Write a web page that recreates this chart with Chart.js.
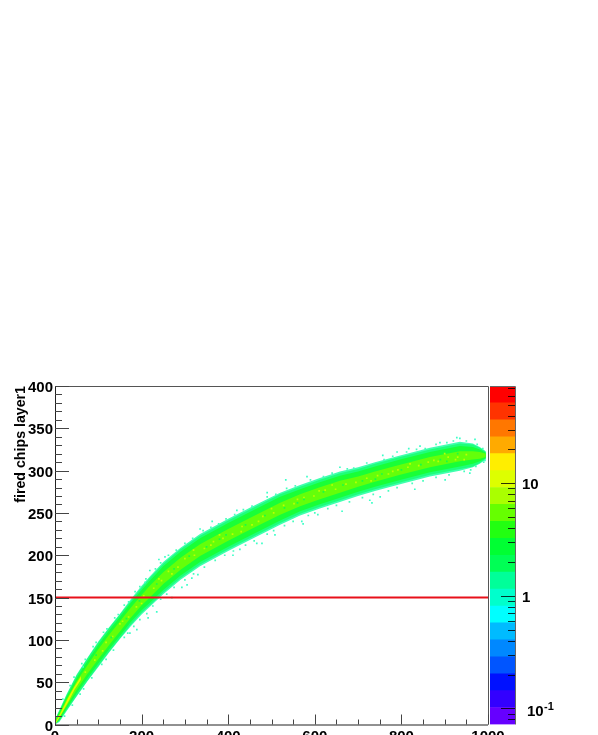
<!DOCTYPE html>
<html>
<head>
<meta charset="utf-8">
<style>
    html, body { margin: 0; padding: 0; width: 598px; height: 735px; overflow: hidden; background: #fff; }
    canvas { position: absolute; top: 0; }
    #main-chart { left: 0; }
    #palette-chart { left: 490px; }
</style>
<script src="https://cdn.jsdelivr.net/npm/chart.js@4/dist/chart.umd.min.js"></script>
</head>
<body>
<canvas id="main-chart" width="598" height="760"></canvas>
<canvas id="palette-chart" width="108" height="760"></canvas>
<script>
// Band outline, one column per bandX entry.
const bandX = [0, 10, 27, 50, 75, 100, 125, 150, 175, 200, 219, 250, 290, 335, 400, 450, 473, 520, 566, 610, 658, 700, 739, 797, 866, 935, 965, 981, 995];
const fringeUp = [6, 17, 36, 59, 79, 98, 115, 131, 148, 164, 175, 192, 209, 225, 243, 256, 262, 274, 283, 291, 299, 304, 310, 318, 327, 334, 332, 328, 323];
const fringeLow = [0, 3, 16, 33, 51, 68, 85, 101, 116, 130, 139, 154, 171, 187, 205, 218, 224, 236, 247, 255, 263, 270, 276, 284, 293, 300, 304, 308, 313];
const tealUp = [5.5, 16, 35, 58, 78, 97, 114, 130, 146, 162, 173, 190, 207, 223, 241, 254, 260, 272, 281, 289, 297, 302, 308, 316, 325, 332, 331, 327, 322];
const tealLow = [0.5, 4, 17, 34, 52, 69, 86, 102, 118, 132, 141, 156, 173, 189, 207, 220, 226, 238, 249, 257, 265, 272, 278, 286, 295, 302, 305, 309, 314];
const greenUp = [5, 15, 33, 55, 75, 94, 111, 127, 144, 159, 170, 187, 204, 220, 238, 251, 257, 269, 278, 286, 294, 299, 305, 313, 322, 329, 328, 325, 321];
const greenLow = [1, 5, 19, 37, 55, 72, 89, 105, 121, 135, 144, 159, 176, 192, 210, 223, 229, 241, 252, 260, 268, 275, 281, 289, 298, 305, 308, 311, 315];
const limeUp = [4, 12, 30, 51, 70, 89, 106, 122, 138, 153, 164, 180, 197, 213, 231, 244, 250, 262, 272, 280, 288, 293, 299, 307, 316, 323, 323, 322, 320];
const limeLow = [2, 8, 22, 41, 60, 77, 94, 110, 126, 141, 150, 166, 183, 199, 217, 230, 236, 248, 258, 266, 274, 281, 287, 295, 304, 311, 313, 314, 316];

// Yellow ridge close to the origin
const ridgeX = [2, 10, 20, 32, 45, 60];
const ridgeUp = [3, 11, 21, 33, 45, 57];
const ridgeLow = [1.5, 8, 17, 28, 41, 53];

// Sparse cells on the rim of the band, [x, y]
const rimCellsUp = [
    [18, 30], [35, 46], [44, 56], [62, 72], [70, 77], [88, 92], [95, 97], [112, 109], [120, 113], [138, 126],
    [146, 130], [160, 141], [170, 145], [185, 157], [196, 163], [210, 172], [232, 184], [244, 191], [262, 200], [280, 206],
    [300, 214], [318, 220], [342, 229], [360, 233], [378, 237], [395, 243], [415, 248], [435, 254], [455, 258], [490, 269],
    [510, 272], [535, 279], [555, 282], [590, 289], [620, 293], [640, 297], [675, 302], [690, 303], [720, 309], [760, 313],
    [780, 317], [812, 322], [835, 325], [855, 326], [880, 331], [905, 333], [920, 335], [950, 335], [975, 331], [988, 326]
];
const rimCellsLow = [
    [22, 10], [40, 23], [58, 36], [66, 42], [85, 55], [108, 71], [118, 77], [135, 88], [160, 103], [168, 108],
    [182, 116], [196, 124], [212, 131], [226, 140], [244, 148], [258, 154], [275, 162], [300, 171], [320, 178], [345, 186],
    [370, 194], [392, 200], [412, 205], [440, 212], [460, 217], [490, 225], [505, 229], [530, 235], [550, 240], [585, 247],
    [600, 250], [630, 255], [650, 259], [680, 263], [710, 268], [735, 272], [770, 276], [790, 280], [825, 285], [850, 288],
    [880, 292], [910, 295], [945, 299], [960, 301], [972, 305], [990, 310]
];

// Stray cells outside the band, [x, y]
const strayCells = [
    [533, 289], [570, 240], [573, 237], [607, 248], [663, 252], [478, 214], [508, 224], [490, 274],
    [582, 293], [658, 304], [732, 262], [928, 339], [970, 337], [935, 338], [901, 289], [831, 278],
    [751, 269], [727, 265], [817, 326], [843, 329], [790, 322], [889, 333], [993, 312], [958, 297],
    [757, 318], [240, 195], [254, 198], [363, 240], [335, 231], [316, 173], [330, 177], [411, 200],
    [427, 207], [466, 214], [293, 162], [305, 165], [420, 253], [270, 150], [219, 182],
    [208, 168], [235, 133], [215, 126], [189, 112], [173, 108], [65, 68]
];

// Yellow-lime and darker green specks inside the band, [x, y]
const hotCells = [
    [70, 62], [92, 76], [118, 97], [133, 104], [156, 122], [170, 127], [188, 139], [205, 152], [228, 161], [246, 170],
    [262, 181], [284, 186], [300, 196], [322, 200], [345, 208], [366, 216], [388, 220], [410, 225], [432, 234], [455, 236],
    [480, 246], [505, 250], [528, 259], [552, 261], [575, 268], [598, 270], [624, 277], [648, 278], [672, 284], [695, 286],
    [720, 291], [745, 294], [770, 296], [792, 301], [815, 304], [840, 306], [862, 310], [885, 311], [908, 316], [930, 316],
    [950, 319], [240, 172], [360, 212], [470, 240], [610, 276], [780, 299], [875, 312], [925, 313], [150, 119], [110, 87],
    [200, 143], [270, 178], [320, 206], [380, 224], [430, 228], [500, 255], [560, 266], [640, 283], [730, 288], [820, 308],
    [900, 320], [945, 313]
];
const deepCells = [
    [95, 82], [130, 103], [165, 125], [195, 146], [235, 166], [275, 184], [310, 199], [350, 210], [395, 224], [440, 236],
    [485, 247], [530, 256], [575, 266], [620, 275], [665, 283], [710, 288], [755, 296], [800, 301], [845, 307], [890, 313],
    [930, 320], [380, 219], [560, 262], [740, 290], [905, 311]
];

const cutX = [0, 1000];
const cutY = [150, 150];

const xTickLabels = [0, 200, 400, 600, 800, 1000];
const xMinorTicks = [50, 100, 150, 250, 300, 350, 450, 500, 550, 650, 700, 750, 850, 900, 950];
const yTickLabels = [0, 50, 100, 150, 200, 250, 300, 350, 400];
const yMinorTicks = [10, 20, 30, 40, 60, 70, 80, 90, 110, 120, 130, 140, 160, 170, 180, 190, 210, 220, 230, 240,
    260, 270, 280, 290, 310, 320, 330, 340, 360, 370, 380, 390];

// Palette: 21 contour edges bottom to top, 20 colours in the same order
const zLevels = [0.072, 0.102, 0.144, 0.203, 0.288, 0.407, 0.575, 0.813, 1.149, 1.625, 2.297, 3.247, 4.59, 6.489, 9.174, 12.97, 18.33, 25.92, 36.64, 51.8, 73.2];
const zColors = ["#6600ff", "#3300ff", "#0011ff", "#0055ff", "#0088ff", "#00bbff", "#00ffff", "#00ffcc", "#00ff99", "#00ff55",
    "#00ff33", "#22ff11", "#66ff00", "#aaff00", "#ddff00", "#ffee00", "#ffaa00", "#ff7700", "#ff3300", "#ff0000"];
const zMajorTicks = [0.1, 1, 10];
const zMinorTicks = [0.08, 0.09, 0.2, 0.3, 0.4, 0.5, 0.6, 0.7, 0.8, 0.9, 2, 3, 4, 5, 6, 7, 8, 9, 20, 30, 40, 50, 60, 70];

const labelFont = { family: "'Liberation Sans'", size: 15, weight: "bold" };

function outline(xs, ys) {
    return xs.map((x, i) => ({ x, y: ys[i] }));
}

// One filled band is two line datasets, the upper one fills down to the lower one.
function bandPair(xs, up, low, color, order, firstIndex) {
    const edge = { borderWidth: 0, pointRadius: 0, order, borderColor: color, backgroundColor: color };
    return [
        { ...edge, data: outline(xs, low), fill: false },
        { ...edge, data: outline(xs, up), fill: firstIndex },
    ];
}

function cellDataset(cells, color, order) {
    return {
        data: cells.map(c => ({ x: c[0], y: c[1] })),
        showLine: false,
        pointStyle: "rect",
        pointRadius: 1.2,
        pointBorderWidth: 0,
        pointBackgroundColor: color,
        order,
    };
}

const axisTicksPlugin = {
    id: "axisTicks",
    afterDatasetsDraw(chart) {
        const { ctx, chartArea: area, scales: { x, y } } = chart;
        ctx.save();
        ctx.lineWidth = 1;

        ctx.strokeStyle = "#555";
        ctx.beginPath();
        ctx.moveTo(area.left, area.top + 0.5);
        ctx.lineTo(area.right + 0.5, area.top + 0.5);
        ctx.lineTo(area.right + 0.5, area.bottom);
        ctx.stroke();

        ctx.strokeStyle = "#222";
        ctx.beginPath();
        ctx.moveTo(area.left + 0.5, area.top);
        ctx.lineTo(area.left + 0.5, area.bottom + 0.5);
        ctx.lineTo(area.right, area.bottom + 0.5);
        ctx.stroke();

        ctx.strokeStyle = "#444";
        ctx.beginPath();
        for (const v of xTickLabels) {
            const px = Math.round(x.getPixelForValue(v)) + 0.5;
            ctx.moveTo(px, area.bottom);
            ctx.lineTo(px, area.bottom - 10);
        }
        for (const v of xMinorTicks) {
            const px = Math.round(x.getPixelForValue(v)) + 0.5;
            ctx.moveTo(px, area.bottom);
            ctx.lineTo(px, area.bottom - 5);
        }
        for (const v of yTickLabels) {
            const py = Math.round(y.getPixelForValue(v)) + 0.5;
            ctx.moveTo(area.left, py);
            ctx.lineTo(area.left + 14, py);
        }
        for (const v of yMinorTicks) {
            const py = Math.round(y.getPixelForValue(v)) + 0.5;
            ctx.moveTo(area.left, py);
            ctx.lineTo(area.left + 7, py);
        }
        ctx.stroke();
        ctx.restore();
    },
};

const paletteTicksPlugin = {
    id: "paletteTicks",
    afterDatasetsDraw(chart) {
        const { ctx, chartArea: area, scales: { y } } = chart;
        ctx.save();
        ctx.lineWidth = 1;
        ctx.strokeStyle = "#666";
        ctx.beginPath();
        ctx.moveTo(area.left, area.top + 0.5);
        ctx.lineTo(area.right + 0.5, area.top + 0.5);
        ctx.lineTo(area.right + 0.5, area.bottom);
        ctx.stroke();

        ctx.strokeStyle = "rgba(0,0,0,0.8)";
        ctx.beginPath();
        for (const v of zMajorTicks) {
            const py = Math.round(y.getPixelForValue(v)) + 0.5;
            ctx.moveTo(area.right, py);
            ctx.lineTo(area.right - 14, py);
        }
        for (const v of zMinorTicks) {
            const py = Math.round(y.getPixelForValue(v)) + 0.5;
            ctx.moveTo(area.right, py);
            ctx.lineTo(area.right - 7, py);
        }
        ctx.stroke();

        // 10^-1 needs a raised exponent, tick callbacks can't do that
        const py = y.getPixelForValue(0.1);
        ctx.fillStyle = "#000";
        ctx.textBaseline = "middle";
        ctx.textAlign = "left";
        ctx.font = "bold 15px 'Liberation Sans'";
        ctx.fillText("10", area.right + 12, py + 3);
        ctx.font = "bold 11px 'Liberation Sans'";
        ctx.fillText("-1", area.right + 29, py - 1);
        ctx.restore();
    },
};

function renderMainChart() {
    const datasets = [
        ...bandPair(bandX, fringeUp, fringeLow, "rgb(65,255,175)", 10, 0),
        ...bandPair(bandX, tealUp, tealLow, "rgb(30,255,120)", 9, 2),
        ...bandPair(bandX, greenUp, greenLow, "rgb(25,255,55)", 8, 4),
        ...bandPair(bandX, limeUp, limeLow, "rgb(100,255,10)", 7, 6),
        ...bandPair(ridgeX, ridgeUp, ridgeLow, "rgb(225,250,0)", 6, 8),
        cellDataset(deepCells, "rgb(20,255,70)", 5),
        cellDataset(hotCells, "rgb(190,255,0)", 5),
        cellDataset(rimCellsUp, "rgb(70,255,190)", 4),
        cellDataset(rimCellsLow, "rgb(70,255,190)", 4),
        cellDataset(strayCells, "rgb(60,255,200)", 4),
        {
            data: outline(cutX, cutY),
            borderColor: "#e8101a",
            borderWidth: 2,
            pointRadius: 0,
            fill: false,
            order: 1,
        },
    ];

    new Chart(document.getElementById("main-chart"), {
        type: "line",
        data: { datasets },
        plugins: [axisTicksPlugin],
        options: {
            responsive: false,
            animation: false,
            devicePixelRatio: 1,
            layout: { padding: { top: 386, right: 110, left: 0, bottom: 0 } },
            plugins: { legend: { display: false }, tooltip: { enabled: false } },
            scales: {
                x: {
                    type: "linear",
                    min: 0,
                    max: 1000,
                    grid: { display: false, drawTicks: false },
                    border: { display: false },
                    afterBuildTicks: s => { s.ticks = xTickLabels.map(value => ({ value })); },
                    afterFit: s => { s.height = 35.5; },
                    ticks: {
                        color: "#000",
                        font: labelFont,
                        padding: 3,
                        maxRotation: 0,
                        autoSkip: false,
                        callback: v => String(v),
                    },
                },
                y: {
                    min: 0,
                    max: 400,
                    grid: { display: false, drawTicks: false },
                    border: { display: false },
                    afterBuildTicks: s => { s.ticks = yTickLabels.map(value => ({ value })); },
                    afterFit: s => { s.width = 55; },
                    ticks: { color: "#000", font: labelFont, padding: 2, labelOffset: 2, autoSkip: false },
                    title: {
                        display: true,
                        text: "fired chips layer1",
                        align: "end",
                        color: "#000",
                        font: { family: "'Liberation Sans'", size: 14.2, weight: "bold" },
                        padding: { top: 13, bottom: 0 },
                    },
                },
            },
        },
    });
}

function renderPalette() {
    const datasets = zColors.map((color, i) => ({
        data: [[zLevels[i], zLevels[i + 1]]],
        backgroundColor: color,
        borderWidth: 0,
        barPercentage: 1,
        categoryPercentage: 1,
    }));

    new Chart(document.getElementById("palette-chart"), {
        type: "bar",
        data: { labels: ["z"], datasets },
        plugins: [paletteTicksPlugin],
        options: {
            responsive: false,
            animation: false,
            devicePixelRatio: 1,
            layout: { padding: { top: 386, bottom: 35.5, left: 0, right: 0 } },
            plugins: { legend: { display: false }, tooltip: { enabled: false } },
            scales: {
                x: { stacked: true, display: false },
                y: {
                    type: "logarithmic",
                    position: "right",
                    min: zLevels[0],
                    max: zLevels[zLevels.length - 1],
                    grid: { display: false, drawTicks: false },
                    border: { display: false },
                    afterBuildTicks: s => { s.ticks = zMajorTicks.map(value => ({ value })); },
                    afterFit: s => { s.width = 83; },
                    ticks: {
                        color: "#000",
                        font: labelFont,
                        padding: 7,
                        labelOffset: 2,
                        autoSkip: false,
                        callback: v => (v === 0.1 ? "" : String(v)),
                    },
                },
            },
        },
    });
}

renderMainChart();
renderPalette();
</script>
</body>
</html>
